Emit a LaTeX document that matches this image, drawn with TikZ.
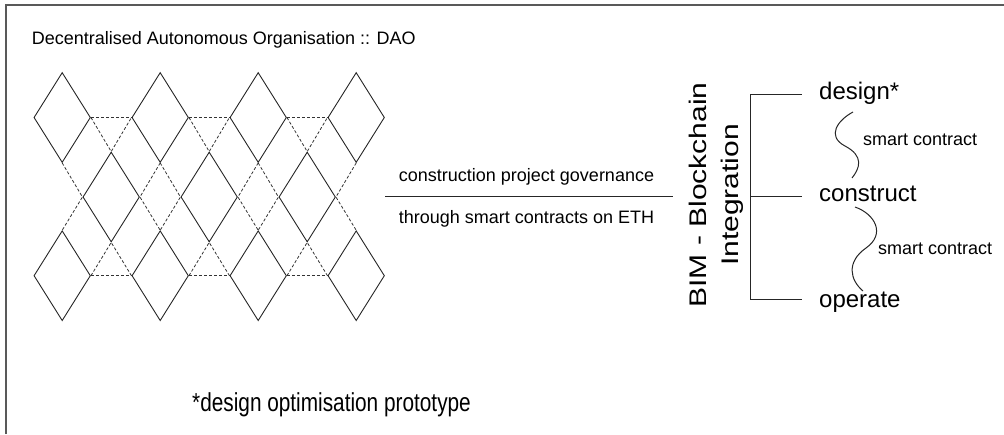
\documentclass[tikz,border=0pt]{standalone}
\usepackage{fontspec}
\setmainfont{Liberation Sans}
\newfontfamily\widesf[FakeStretch=1.25]{Liberation Sans}
\newfontfamily\narrowsf[FakeStretch=0.8]{Liberation Sans}
\usetikzlibrary{positioning,shapes.geometric}

\begin{document}
\begin{tikzpicture}[
    x=1pt, y=-1pt,
    node distance=4pt,
    font=\fontsize{18}{22}\selectfont,
    cell/.style={
		diamond,
		draw=black!85,
		line width=0.9pt,
		inner sep=0pt,
		minimum width=56.6pt,
		minimum height=90pt
	},
    link/.style={
		draw=black!80,
		line width=0.8pt,
		dash pattern=on 3pt off 2pt
	},
    phase/.style={
		font=\fontsize{24}{28}\selectfont,
		inner sep=0pt,
		text height=12pt,
		text depth=2pt
	},
    note/.style={
		inner sep=0pt,
		anchor=base west
	},
    wire/.style={
		draw=black!85,
		line width=1pt
	}
  ]
  \useasboundingbox (0,0) rectangle (1004,434);
  % frame
  \draw [draw=black!65, line width=1.5pt] (6,434) -- (6,5) -- (1004,5);

  \node [note] (title) at (31.7,44) {Decentralised Autonomous Organisation :: DAO};

  % We start by placing the diamonds
  \foreach \i in {1,...,4} {
    \node [cell] (t\i) at ({62.2+98*(\i-1)},117.5) {};
    \node [cell] (b\i) at ({62.2+98*(\i-1)},275.7) {};
  }
  \foreach \i in {1,2,3} {
    \node [cell] (m\i) at ({111.2+98*(\i-1)},197) {};
  }

  % dashed lattice between them
  \foreach \i [evaluate=\i as \j using int(\i+1)] in {1,2,3} {
    \draw [link] (t\i.east) -- (t\j.west);
    \draw [link] (t\i.east) -- (m\i.north) -- (t\j.west);
    \draw [link] (b\i.east) -- (b\j.west);
    \draw [link] (b\i.east) -- (m\i.south) -- (b\j.west);
    \draw [link] (t\i.south) -- (m\i.west) -- (b\i.north);
    \draw [link] (t\j.south) -- (m\i.east) -- (b\j.north);
  }

  % governance line
  \coordinate (gl) at (385,196.7);
  \coordinate (gr) at (673,196.7);
  \coordinate (gov) at (526.5,196.7);
  \draw [wire] (gl) -- (gr);
  \node [inner sep=0pt, above=11pt of gov] (govtop) {construction project governance};
  \node [inner sep=0pt, below=14pt of gov] (govbot) {through smart contracts on ETH};

  \node [inner sep=0pt, rotate=90, align=center, font=\widesf\fontsize{24}{32}\selectfont] (bim)
    at (716.5,195) {BIM - Blockchain\\Integration};

  % bracket with the three phases
  \coordinate (k1) at (750,94);
  \coordinate (k2) at (750,196.7);
  \coordinate (k3) at (750,299);
  \coordinate (e1) at (802,94);
  \coordinate (e2) at (802,196.7);
  \coordinate (e3) at (802,299);
  \draw [wire] (k1) -- (k3);
  \draw [wire] (k1) -- (e1);
  \draw [wire] (k2) -- (e2);
  \draw [wire] (k3) -- (e3);

  \node [phase, right=17pt of e1] (design) {design*};
  \node [phase, right=17pt of e2] (construct) {construct};
  \node [phase, right=17pt of e3, yshift=-3pt] (operate) {operate};

  % smart contract squiggles
  \coordinate (w1a) at (853,112);
  \coordinate (w1m) at (845,146);
  \coordinate (w1b) at (852,178);
  \draw [wire] (w1a) .. controls (838,120) and (826,136) .. (w1m)
               .. controls (864,156) and (860,168) .. (w1b);
  \node [note] (sc1) at (863,145) {smart contract};

  \coordinate (w2a) at (855,207);
  \coordinate (w2m) at (866,248);
  \coordinate (w2b) at (863,291);
  \draw [wire] (w2a) .. controls (875,214) and (886,234) .. (w2m)
               .. controls (846,262) and (850,280) .. (w2b);
  \node [note] (sc2) at (878,254) {smart contract};

  \node [note, font=\narrowsf\fontsize{26}{30}\selectfont] (proto) at (192,411.7) {*design optimisation prototype};
\end{tikzpicture}
\end{document}
